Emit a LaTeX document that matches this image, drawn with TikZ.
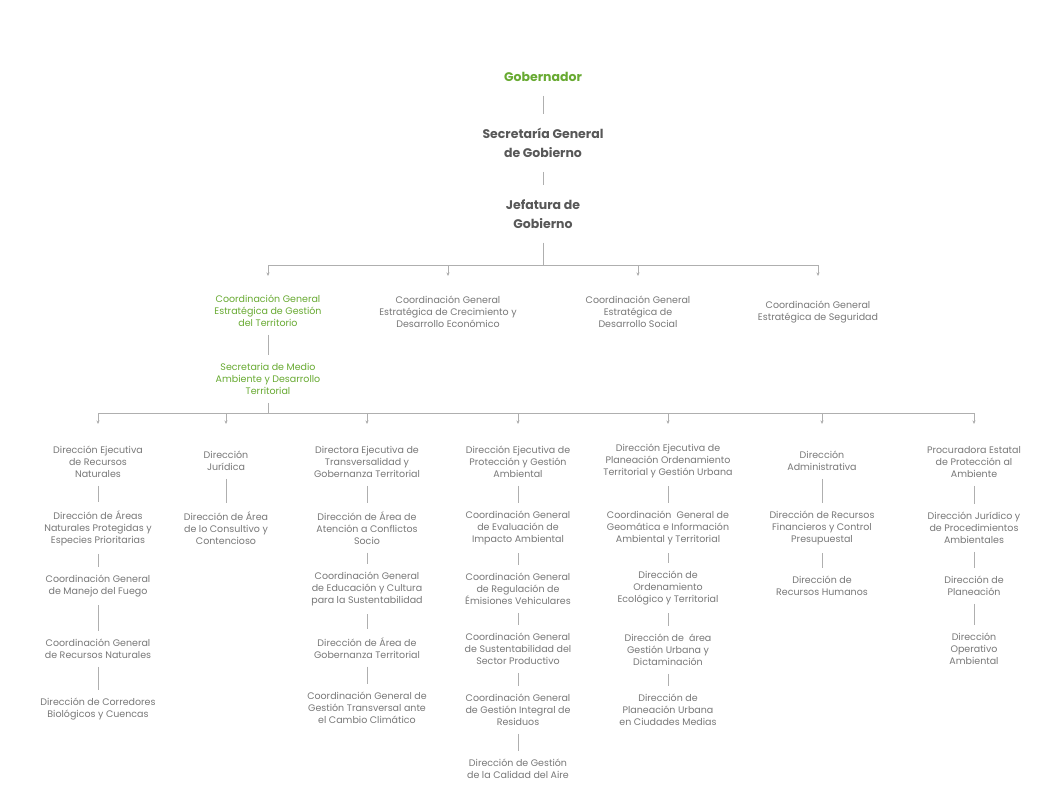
\documentclass[tikz,border=0pt]{standalone}
\usepackage{fontspec}
\setmainfont{Poppins}
\usetikzlibrary{arrows.meta}
\definecolor{txtgray}{RGB}{120,120,120}
\definecolor{headgray}{RGB}{88,88,88}
\definecolor{govgreen}{RGB}{104,170,50}
\definecolor{linegray}{RGB}{175,175,175}

\begin{document}
\begin{tikzpicture}[x=1pt,y=-1pt,
    unit/.style={align=center,font=\fontsize{9.5}{12}\selectfont,text=txtgray,inner xsep=0pt,inner ysep=8pt},
    head/.style={align=center,font=\fontsize{12.5}{19}\selectfont\bfseries,text=headgray,inner xsep=0pt,inner ysep=14pt},
    link/.style={draw=linegray,line width=0.6pt},
    tick/.style={link,-{Stealth[length=3.5pt,width=3pt]}}]
  \fill[white] (0,0) rectangle (1050,811);
  \useasboundingbox (0,0) rectangle (1050,811);

  \node[head,text=govgreen] (gob) at (543,77) {Gobernador};
  \node[head] (sgg) at (543,143) {Secretaría General\\de Gobierno};
  \node[head] (jef) at (543,214) {Jefatura de\\Gobierno};
  \coordinate (bus1) at (543,265);

  \node[unit,text=govgreen] (c1) at (268,311) {Coordinación General\\Estratégica de Gestión\\del Territorio};
  \node[unit] (c2) at (448,312) {Coordinación General\\Estratégica de Crecimiento y\\Desarrollo Económico};
  \node[unit] (c3) at (638,312) {Coordinación General\\Estratégica de\\Desarrollo Social};
  \node[unit] (c4) at (818,312) {Coordinación General\\Estratégica de Seguridad};
  \node[unit,text=govgreen] (sma) at (268,379) {Secretaria de Medio\\Ambiente y Desarrollo\\Territorial};
  \coordinate (bus2) at (268,413);

  \node[unit] (d1) at (98,462) {Dirección Ejecutiva\\de Recursos\\Naturales};
  \node[unit] (d1a) at (98,528) {Dirección de Áreas\\Naturales Protegidas y\\Especies Prioritarias};
  \node[unit] (d1b) at (98,586) {Coordinación General\\de Manejo del Fuego};
  \node[unit] (d1c) at (98,649) {Coordinación General\\de Recursos Naturales};
  \node[unit] (d1d) at (98,709) {Dirección de Corredores\\Biológicos y Cuencas};

  \node[unit] (d2) at (226,461) {Dirección\\Jurídica};
  \node[unit] (d2a) at (226,528) {Dirección de Área\\de lo Consultivo y\\Contencioso};

  \node[unit] (d3) at (367,462) {Directora Ejecutiva de\\Transversalidad y\\Gobernanza Territorial};
  \node[unit] (d3a) at (367,528) {Dirección de Área de\\Atención a Conflictos\\Socio};
  \node[unit] (d3b) at (367,589) {Coordinación General\\de Educación y Cultura\\para la Sustentabilidad};
  \node[unit] (d3c) at (367,648) {Dirección de Área de\\Gobernanza Territorial};
  \node[unit] (d3d) at (367,708) {Coordinación General de\\Gestión Transversal ante\\el Cambio Climático};

  \node[unit] (d4) at (518,462) {Dirección Ejecutiva de\\Protección y Gestión\\Ambiental};
  \node[unit] (d4a) at (518,528) {Coordinación General\\de Evaluación de\\Impacto Ambiental};
  \node[unit] (d4b) at (518,589) {Coordinación General\\de Regulación de\\Émisiones Vehiculares};
  \node[unit] (d4c) at (518,649) {Coordinación General\\de Sustentabilidad del\\Sector Productivo};
  \node[unit] (d4d) at (518,710) {Coordinación General\\de Gestión Integral de\\Residuos};
  \node[unit] (d4e) at (518,769) {Dirección de Gestión\\de la Calidad del Aire};

  \node[unit] (d5) at (668,461) {Dirección Ejecutiva de\\Planeación Ordenamiento\\Territorial y Gestión Urbana};
  \node[unit] (d5a) at (668,528) {Coordinación~ General de\\Geomática e Información\\Ambiental y Territorial};
  \node[unit] (d5b) at (668,588) {Dirección de\\Ordenamiento\\Ecológico y Territorial};
  \node[unit] (d5c) at (668,650) {Dirección de~ área\\Gestión Urbana y\\Dictaminación};
  \node[unit] (d5d) at (668,710) {Dirección de\\Planeación Urbana\\en Ciudades Medias};

  \node[unit] (d6) at (822,461) {Dirección\\Administrativa};
  \node[unit] (d6a) at (822,528) {Dirección de Recursos\\Financieros y Control\\Presupuestal};
  \node[unit] (d6b) at (822,586) {Dirección de\\Recursos Humanos};

  \node[unit] (d7) at (974,462) {Procuradora Estatal\\de Protección al\\Ambiente};
  \node[unit] (d7a) at (974,528) {Dirección Jurídico y\\de Procedimientos\\Ambientales};
  \node[unit] (d7b) at (974,586) {Dirección de\\Planeación};
  \node[unit] (d7c) at (974,649) {Dirección\\Operativo\\Ambiental};

  \draw[link] (gob.south) -- (sgg.north);
  \draw[link] (sgg.south) -- (jef.north);
  \draw[link] (jef.south) -- (bus1);
  \draw[link] (bus1 -| c1) -- (bus1 -| c4);
  \foreach \n in {c1,c2,c3,c4}
    \draw[tick] (bus1 -| \n) -- ++(0,11);
  \draw[link] (c1.south) -- (sma.north);
  \draw[link] (sma.south) -- (bus2);
  \draw[link] (bus2 -| d1) -- (bus2 -| d7);
  \foreach \n in {d1,d2,d3,d4,d5,d6,d7}
    \draw[tick] (bus2 -| \n) -- ++(0,11);

  \foreach \a/\b in {d1/d1a,d1a/d1b,d1b/d1c,d1c/d1d,d2/d2a,
      d3/d3a,d3a/d3b,d3b/d3c,d3c/d3d,
      d4/d4a,d4a/d4b,d4b/d4c,d4c/d4d,d4d/d4e,
      d5/d5a,d5a/d5b,d5b/d5c,d5c/d5d,
      d6/d6a,d6a/d6b,d7/d7a,d7a/d7b,d7b/d7c}
    \draw[link] (\a.south) -- (\b.north);
\end{tikzpicture}
\end{document}
